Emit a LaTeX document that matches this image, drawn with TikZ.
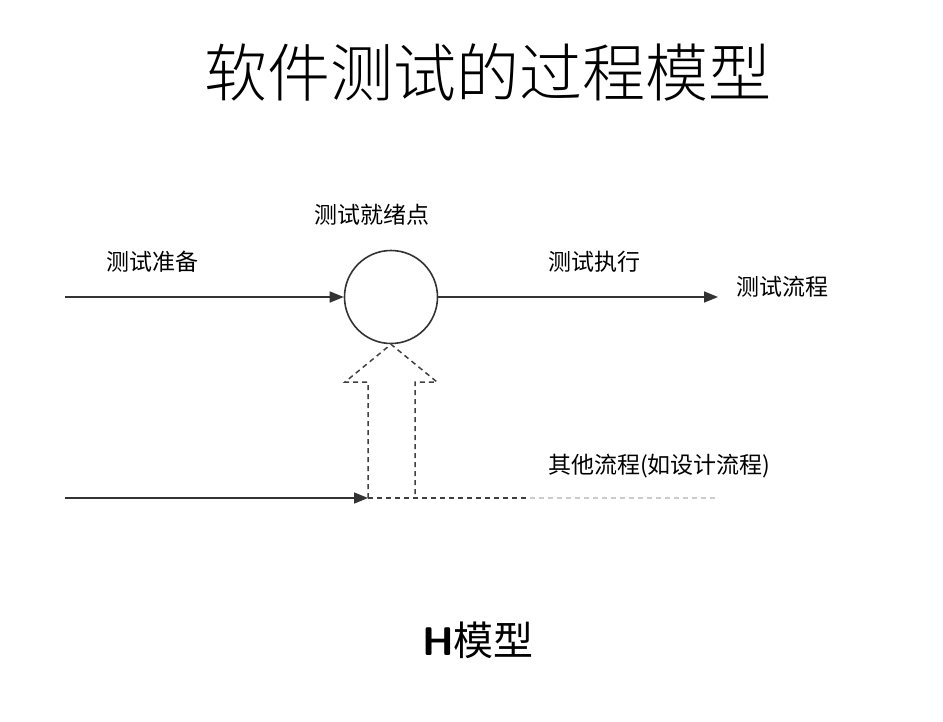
\documentclass[tikz,border=0pt]{standalone}
\usepackage{fontspec}
\newfontfamily\cjk{Noto Sans CJK SC}
\newfontfamily\cjkl{Noto Sans CJK SC Light}
\usetikzlibrary{arrows.meta}
\begin{document}
\begin{tikzpicture}[x=1pt,y=-1pt,
  lbl/.style={font=\cjk\fontsize{23}{23}\selectfont,inner sep=0pt,anchor=west},
  arr/.style={line width=1.6pt,draw=black!80,-{Triangle[length=14pt,width=11pt]}},
  dsh/.style={line width=1.5pt,draw=black!75,dash pattern=on 5pt off 4pt}]
\useasboundingbox (0,0) rectangle (943,721);
\node[font=\cjkl\fontsize{63}{63}\selectfont,inner sep=0pt] (title) at (488,72) {软件测试的过程模型};
\node[draw=black!80,line width=1.6pt,circle,minimum size=93pt,inner sep=0pt] (c) at (391,297) {};
\coordinate (a0) at (65,297);
\coordinate (b1) at (718,297);
\draw[arr] (a0) -- (c.west);
\draw[arr] (c.east) -- (b1);
\node[lbl] (l1) at (106,262) {测试准备};
\node[lbl] (l2) at (314,215) {测试就绪点};
\node[lbl] (l3) at (548,262) {测试执行};
\node[lbl] (l4) at (736,287) {测试流程};
\node[lbl] (l5) at (548,466) {其他流程(如设计流程)};
\coordinate (d0) at (65,498);
\coordinate (d1) at (368,498);
\coordinate (d2) at (530,498);
\coordinate (d3) at (718,498);
\draw[arr] (d0) -- (d1);
\draw[dsh] (d1) -- (368,382) -- (345,382) -- (c.south) -- (437,382) -- (415,382) -- (415,498);
\draw[dsh] (d1) -- (d2);
\draw[dsh,draw=black!20] (d2) -- (d3);
\node[font=\fontsize{40}{40}\selectfont,inner sep=0pt] (h) at (478,640) {\textsf{\bfseries H}\cjk 模型};
\end{tikzpicture}
\end{document}
